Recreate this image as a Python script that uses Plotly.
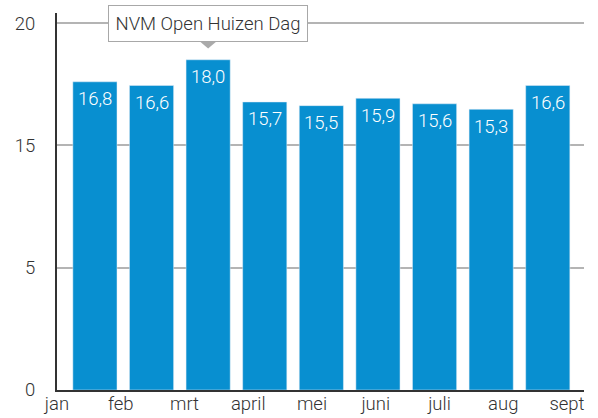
import plotly.graph_objects as go

months = ["jan", "feb", "mrt", "april", "mei", "juni", "juli", "aug", "sept"]
values = [16.8, 16.6, 18.0, 15.7, 15.5, 15.9, 15.6, 15.3, 16.6]
ytick_labels = ["0", "5", "15", "20"]
y_top = 20
callout_text = "NVM Open Huizen Dag"
callout_month = "mrt"

BAR = "#088fd0"
DARK = "#333333"
GRID = "#b4b4b4"
FONT = "Roboto"
FS = 18.5
W = 300

n_ticks = len(ytick_labels)
ytick_vals = [y_top * i / (n_ticks - 1) for i in range(n_ticks)]

fig = go.Figure()
fig.add_trace(go.Bar(x=months, y=values, marker_color=BAR, width=0.78,
                     hoverinfo="skip", showlegend=False))
# invisible helper trace so the label axis is drawn
fig.add_trace(go.Scatter(x=list(range(len(months))), y=[0] * len(months),
                         xaxis="x2", mode="markers", marker=dict(opacity=0),
                         hoverinfo="skip", showlegend=False))

for m, v in zip(months, values):
    fig.add_annotation(x=m, y=v, text=f"{v:.1f}".replace(".", ","),
                       showarrow=False, yanchor="middle", yshift=-17.5,
                       font=dict(family=FONT, size=FS, color="white", weight=W))

fig.add_annotation(x=callout_month, y=y_top, text=callout_text, showarrow=False,
                   xanchor="center", yanchor="middle",
                   bgcolor="white", bordercolor="#a8a8a8", borderwidth=1,
                   borderpad=6.5, font=dict(family=FONT, size=FS, color=DARK, weight=W))
fig.add_shape(type="path", xref="x", yref="y", xsizemode="pixel", ysizemode="pixel",
              xanchor=callout_month, yanchor=y_top, layer="above",
              path="M-10,-17 L10,-17 L0,-25.5 Z",
              fillcolor="#aaaaaa", line=dict(width=0))

fig.update_layout(
    width=598, height=418,
    margin=dict(l=57, r=14, t=13, b=28),
    plot_bgcolor="white", paper_bgcolor="white",
    font=dict(family=FONT, size=FS, color=DARK, weight=W),
    xaxis=dict(type="category", range=[-0.67, 8.64], showticklabels=False,
               showline=True, linecolor=DARK, linewidth=2, ticks="",
               showgrid=False, zeroline=False, automargin=False),
    xaxis2=dict(overlaying="x", anchor="y", side="bottom", range=[0, 8.267],
                tickvals=list(range(len(months))), ticktext=months,
                showgrid=False, zeroline=False, showline=False, ticks="",
                automargin=False,
                tickfont=dict(family=FONT, size=FS, color=DARK, weight=W)),
    yaxis=dict(range=[0, 20.55], tickvals=ytick_vals, ticktext=ytick_labels,
               showline=True, linecolor=DARK, linewidth=2, ticks="",
               gridcolor=GRID, gridwidth=1.5, zeroline=False,
               ticklabelstandoff=16, automargin=False,
               tickfont=dict(family=FONT, size=FS, color=DARK, weight=W)),
    bargap=0.22,
)

fig.write_html("out.html", config={"displayModeBar": False},
               post_script="document.body.style.margin='0';document.body.style.overflow='hidden';")
